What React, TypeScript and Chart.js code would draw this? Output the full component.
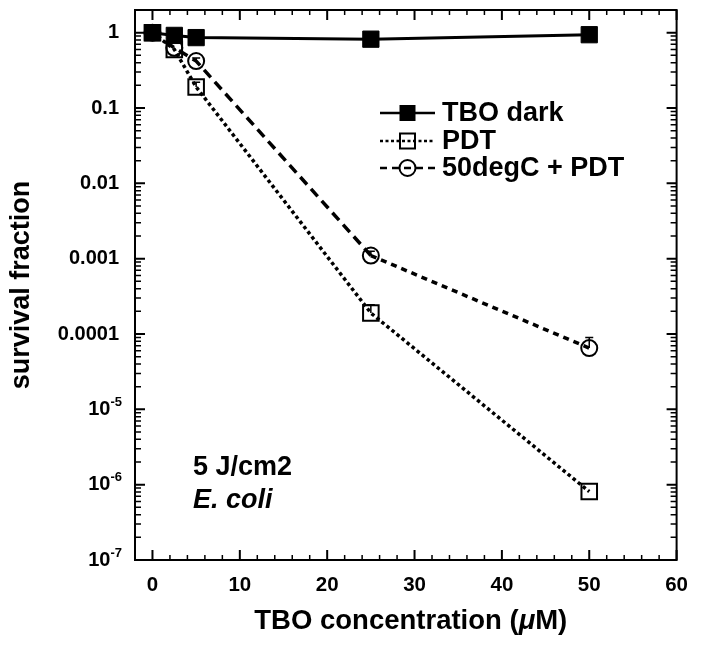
import React, { useEffect, useRef } from 'react';
import { Chart, registerables } from 'chart.js';

Chart.register(...registerables);

// ---- data ----
const concentrations = [0, 2.5, 5, 25, 50];
const tboDark = [1.0, 0.92, 0.86, 0.82, 0.94];
const pdt = [1.0, 0.6, 0.19, 1.9e-4, 8.1e-7];
const heatPdt = [1.0, 0.63, 0.42, 1.1e-3, 6.5e-5];
const pdtErrUpper: (number | null)[] = [null, null, 0.22, 2.45e-4, null];
const heatPdtErrUpper: (number | null)[] = [null, null, 0.46, 1.25e-3, 9.0e-5];
const seriesNames = ['TBO dark', 'PDT', '50degC + PDT'];
const xTickValues = [0, 10, 20, 30, 40, 50, 60];
const yTickValues = [1, 0.1, 0.01, 0.001, 0.0001, 1e-5, 1e-6, 1e-7];
const yTickLabels = ['1', '0.1', '0.01', '0.001', '0.0001', '10^-5', '10^-6', '10^-7'];
const xTitle = ['TBO concentration (', 'μ', 'M)'];
const yTitle = 'survival fraction';
const annotationLines = ['5 J/cm2', 'E. coli'];

const FONT = '"Liberation Sans", Arial, Helvetica, sans-serif';

export default function App() {
  const ref = useRef<HTMLCanvasElement>(null);

  useEffect(() => {
    const canvas = ref.current!;

    const decorPlugin = {
      id: 'decor',
      afterDatasetsDraw(chart: any) {
        const ctx = chart.ctx;
        const xs = chart.scales.x;
        const ys = chart.scales.y;
        const drawErr = (vals: number[], errs: (number | null)[]) => {
          ctx.save();
          ctx.strokeStyle = '#000';
          ctx.lineWidth = 1.5;
          errs.forEach((e, i) => {
            if (e == null) return;
            const px = xs.getPixelForValue(concentrations[i]);
            const p0 = ys.getPixelForValue(vals[i]);
            const p1 = ys.getPixelForValue(e);
            ctx.beginPath();
            ctx.moveTo(px, p0);
            ctx.lineTo(px, p1);
            ctx.moveTo(px - 4, p1);
            ctx.lineTo(px + 4, p1);
            ctx.stroke();
          });
          ctx.restore();
        };
        drawErr(pdt, pdtErrUpper);
        drawErr(heatPdt, heatPdtErrUpper);
      },
      afterDraw(chart: any) {
        const ctx = chart.ctx;
        const ca = chart.chartArea;
        const xs = chart.scales.x;
        const ys = chart.scales.y;
        ctx.save();
        ctx.strokeStyle = '#000';
        ctx.fillStyle = '#000';

        // box
        ctx.lineWidth = 2;
        ctx.strokeRect(ca.left, ca.top, ca.right - ca.left, ca.bottom - ca.top);

        // x ticks (inward, top and bottom)
        for (let v = 0; v <= 60; v += 2) {
          const major = v % 10 === 0;
          const len = major ? 10 : 5;
          const px = xs.getPixelForValue(v);
          ctx.lineWidth = major ? 2 : 1.5;
          ctx.beginPath();
          ctx.moveTo(px, ca.bottom);
          ctx.lineTo(px, ca.bottom - len);
          ctx.moveTo(px, ca.top);
          ctx.lineTo(px, ca.top + len);
          ctx.stroke();
        }
        // y ticks (inward, left and right)
        for (let e = -7; e <= 0; e++) {
          for (let k = 1; k <= 9; k++) {
            const v = k * Math.pow(10, e);
            if (v >= ys.max) continue;
            const major = k === 1;
            const len = major ? 10 : 6;
            const py = ys.getPixelForValue(v);
            ctx.lineWidth = major ? 2 : 1.5;
            ctx.beginPath();
            ctx.moveTo(ca.left, py);
            ctx.lineTo(ca.left + len, py);
            ctx.moveTo(ca.right, py);
            ctx.lineTo(ca.right - len, py);
            ctx.stroke();
          }
        }

        // y tick labels
        ctx.textBaseline = 'middle';
        yTickValues.forEach((v, i) => {
          const py = ys.getPixelForValue(v);
          const lab = yTickLabels[i];
          if (lab.includes('^')) {
            const [base, exp] = lab.split('^');
            const right = ca.left - 13;
            ctx.font = `bold 13px ${FONT}`;
            ctx.textAlign = 'right';
            const ew = ctx.measureText(exp).width;
            ctx.fillText(exp, right, py - 7);
            ctx.font = `bold 20px ${FONT}`;
            ctx.fillText(base, right - ew, py);
          } else {
            ctx.font = `bold 20px ${FONT}`;
            ctx.textAlign = 'right';
            ctx.fillText(lab, ca.left - 16, py);
          }
        });

        // y title
        ctx.save();
        ctx.translate(14, (ca.top + ca.bottom) / 2);
        ctx.rotate(-Math.PI / 2);
        ctx.font = `bold 27px ${FONT}`;
        ctx.textAlign = 'center';
        ctx.textBaseline = 'middle';
        ctx.fillText(yTitle, 0, 0);
        ctx.restore();

        // x title (with italic mu)
        const fonts = [`bold 27.5px ${FONT}`, `italic bold 27.5px ${FONT}`, `bold 27.5px ${FONT}`];
        const widths = xTitle.map((t, i) => {
          ctx.font = fonts[i];
          return ctx.measureText(t).width;
        });
        const total = widths.reduce((a, b) => a + b, 0);
        let tx = (ca.left + ca.right) / 2 + 5 - total / 2;
        const ty = ca.bottom + 61;
        ctx.textAlign = 'left';
        ctx.textBaseline = 'middle';
        xTitle.forEach((t, i) => {
          ctx.font = fonts[i];
          ctx.fillText(t, tx, ty);
          tx += widths[i];
        });

        // annotation
        ctx.textBaseline = 'alphabetic';
        ctx.font = `bold 27px ${FONT}`;
        ctx.fillText(annotationLines[0], ca.left + 58, ca.top + 465);
        ctx.font = `italic bold 27px ${FONT}`;
        ctx.fillText(annotationLines[1], ca.left + 58, ca.top + 498);

        // legend
        const lx0 = ca.left + 245;
        const lx1 = ca.left + 300;
        const ltx = ca.left + 307;
        const rows = [ca.top + 103, ca.top + 131, ca.top + 158];
        const dashes = [[], [3, 2.5], [7, 5]];
        rows.forEach((ly, i) => {
          ctx.save();
          ctx.lineWidth = 2.5;
          ctx.setLineDash(dashes[i]);
          ctx.beginPath();
          ctx.moveTo(lx0, ly);
          ctx.lineTo(lx1, ly);
          ctx.stroke();
          ctx.restore();
          const mx = (lx0 + lx1) / 2;
          ctx.lineWidth = 2;
          if (i === 0) {
            ctx.fillRect(mx - 8, ly - 8, 16, 16);
          } else if (i === 1) {
            ctx.strokeRect(mx - 7.5, ly - 7.5, 15, 15);
          } else {
            ctx.beginPath();
            ctx.arc(mx, ly, 8, 0, Math.PI * 2);
            ctx.stroke();
          }
          ctx.font = `bold 27px ${FONT}`;
          ctx.textAlign = 'left';
          ctx.textBaseline = 'middle';
          ctx.fillText(seriesNames[i], ltx, ly + 1);
        });

        ctx.restore();
      },
    };

    const chart = new Chart(canvas, {
      type: 'line',
      data: {
        datasets: [
          {
            label: seriesNames[0],
            data: concentrations.map((x, i) => ({ x, y: tboDark[i] })),
            borderColor: '#000',
            borderWidth: 3,
            pointStyle: 'rect',
            pointRadius: 11.5,
            pointBackgroundColor: '#000',
            pointBorderColor: '#000',
            pointBorderWidth: 1,
            tension: 0,
          },
          {
            label: seriesNames[1],
            data: concentrations.map((x, i) => ({ x, y: pdt[i] })),
            borderColor: '#000',
            borderWidth: 3.5,
            borderDash: [3.5, 3],
            pointStyle: 'rect',
            pointRadius: 11,
            pointBackgroundColor: 'rgba(0,0,0,0)',
            pointBorderColor: '#000',
            pointBorderWidth: 2,
            tension: 0,
          },
          {
            label: seriesNames[2],
            data: concentrations.map((x, i) => ({ x, y: heatPdt[i] })),
            borderColor: '#000',
            borderWidth: 3.5,
            segment: {
              borderDash: (c: any) => (c.p0DataIndex >= 3 ? [6, 5] : [10, 6]),
            },
            pointStyle: 'circle',
            pointRadius: 8,
            pointBackgroundColor: 'rgba(0,0,0,0)',
            pointBorderColor: '#000',
            pointBorderWidth: 2,
            tension: 0,
          },
        ],
      } as any,
      options: {
        animation: false,
        responsive: true,
        maintainAspectRatio: false,
        events: [],
        clip: false,
        layout: { autoPadding: false, padding: { top: 2, right: 16, left: 0, bottom: 0 } },
        plugins: { legend: { display: false }, tooltip: { enabled: false } },
        scales: {
          x: {
            type: 'linear',
            min: -2,
            max: 60,
            afterBuildTicks: (s: any) => {
              s.ticks = xTickValues.map((v) => ({ value: v }));
            },
            afterFit: (s: any) => {
              s.height = 82;
            },
            grid: { display: false, drawTicks: false },
            border: { display: false },
            ticks: {
              color: '#000',
              padding: 13,
              maxRotation: 0,
              autoSkip: false,
              font: { family: FONT, weight: 'bold', size: 20.5 },
            },
          },
          y: {
            type: 'logarithmic',
            min: 1e-7,
            max: 2,
            afterFit: (s: any) => {
              s.width = 127;
            },
            grid: { display: false, drawTicks: false },
            border: { display: false },
            ticks: { display: false },
          },
        },
      } as any,
      plugins: [decorPlugin],
    });

    return () => chart.destroy();
  }, []);

  return (
    <div style={{ width: 693, height: 634, position: 'relative' }}>
      <canvas ref={ref} />
    </div>
  );
}
